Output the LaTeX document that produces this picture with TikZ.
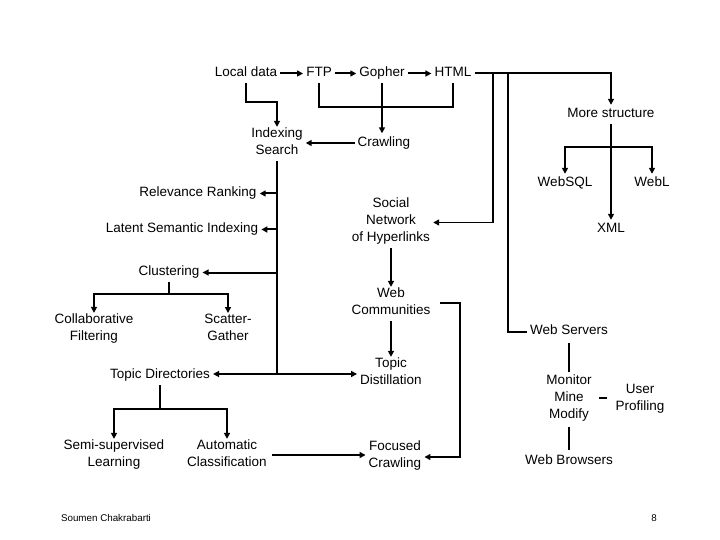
\documentclass[tikz,border=0pt]{standalone}
\usepackage{fontspec}
\setmainfont{Liberation Sans}
\usetikzlibrary{arrows.meta}
\begin{document}
\begin{tikzpicture}[x=1pt,y=-1pt,
  txt/.style={font=\fontsize{13.5}{17}\selectfont, align=center, inner ysep=1pt, inner xsep=3pt,
    execute at begin node=\strut, execute at end node=\strut},
  ln/.style={line width=2pt},
  thin/.style={line width=1.2pt},
  arr/.style={-{Triangle[length=6pt,width=6pt]}},
  foot/.style={font=\fontsize{9.8}{12}\selectfont, inner sep=0pt}]
\useasboundingbox (0,0) rectangle (720,540);
% top row
\node[txt] (local) at (246,73.5) {Local data};
\node[txt] (ftp) at (319,73.5) {FTP};
\node[txt] (gopher) at (382,73.5) {Gopher};
\node[txt] (html) at (453,73.5) {HTML};
\node[txt] (index) at (277,144) {Indexing\\Search};
\node[txt] (crawl) at (384,143) {Crawling};
% right tree
\node[txt] (more) at (611,114.5) {More structure};
\node[txt] (websql) at (565,183.5) {WebSQL};
\node[txt] (webl) at (652,183.5) {WebL};
\node[txt] (xml) at (611,229.5) {XML};
% left column
\node[txt] (relev) at (198,193.5) {Relevance Ranking};
\node[txt] (lsi) at (182,229.5) {Latent Semantic Indexing};
\node[txt] (clust) at (169,272.5) {Clustering};
\node[txt] (collab) at (94,330) {Collaborative\\Filtering};
\node[txt] (scatter) at (228,330) {Scatter-\\Gather};
\node[txt] (topicdir) at (160,375.5) {Topic Directories};
\node[txt] (semi) at (114,456) {Semi-supervised\\Learning};
\node[txt] (auto) at (227,456) {Automatic\\Classification};
% middle column
\node[txt] (social) at (391,222.5) {Social\\Network\\of Hyperlinks};
\node[txt] (webcomm) at (391,304) {Web\\Communities};
\node[txt] (topicdist) at (391,374) {Topic\\Distillation};
\node[txt] (focused) at (395,457) {Focused\\Crawling};
% right bottom
\node[txt] (webserv) at (569,331.5) {Web Servers};
\node[txt] (mmm) at (569,399.5) {Monitor\\Mine\\Modify};
\node[txt] (user) at (640,400) {User\\Profiling};
\node[txt] (browsers) at (569,461.5) {Web Browsers};
% footer
\node[foot] (author) at (106,518) {Soumen Chakrabarti};
\node[foot] (page) at (654,518) {8};

% coordinates
\coordinate (j1) at (493,72);
\coordinate (j2) at (508,72);
\coordinate (c1) at (277,102);
\coordinate (bar) at (382,107);
\coordinate (trunk) at (277,374);
\coordinate (cj) at (169,294);
\coordinate (tj) at (160,409);
\coordinate (mj) at (611,147);
\coordinate (wb) at (460,303);
\coordinate (af) at (272,455);
\coordinate (dash) at (599,398);

% top row arrows
\draw[ln,arr] (local.east) -- (ftp.west);
\draw[ln,arr] (ftp.east) -- (gopher.west);
\draw[ln,arr] (gopher.east) -- (html.west);
\draw[ln,arr] (html.east) -| (more.north);
\draw[thin,arr] (j1) |- (social.east);
\draw[ln] (j2) |- (webserv.west);
\draw[ln,arr] (local.south) |- (c1) -- (index.north);
\draw[ln] (ftp.south) |- (bar) -| (html.south);
\draw[ln,arr] (gopher.south) -- (gopher.south |- crawl.north);
\draw[ln,arr] (crawl.west) -- (crawl.west -| index.east);
% trunk
\draw[ln] (index.south) -- (trunk);
\draw[ln,arr] (trunk |- relev.east) -- (relev.east);
\draw[ln,arr] (trunk |- lsi.east) -- (lsi.east);
\draw[ln,arr] (trunk |- clust.east) -- (clust.east);
\draw[ln,arr] (trunk) -- (trunk -| topicdir.east);
\draw[ln,arr] (trunk) -- (trunk -| topicdist.west);
% clustering subtree
\draw[ln] (clust.south) -- (cj);
\draw[ln,arr] (cj) -| (collab.north);
\draw[ln,arr] (cj) -| (scatter.north);
% topic dir subtree
\draw[ln] (topicdir.south) -- (tj);
\draw[ln,arr] (tj) -| (semi.north);
\draw[ln,arr] (tj) -| (auto.north);
\draw[ln,arr] (af) -- (af -| focused.west);
% middle column
\draw[ln,arr] (social.south) -- (webcomm.north);
\draw[ln,arr] (webcomm.south) -- (topicdist.north);
\draw[ln,arr] (webcomm.east |- wb) ++(6,0) -- (wb) |- (focused.east);
% more structure
\draw[ln,arr] (more.south) -- (xml.north);
\draw[ln,arr] (mj) -| (websql.north);
\draw[ln,arr] (mj) -| (webl.north);
% web servers
\draw[ln,shorten <=2pt,shorten >=2pt] (webserv.south) -- (mmm.north);
\draw[ln,shorten <=2pt,shorten >=2pt] (mmm.south) -- (browsers.north);
\draw[ln] (dash) -- ++(8,0);
\end{tikzpicture}
\end{document}
